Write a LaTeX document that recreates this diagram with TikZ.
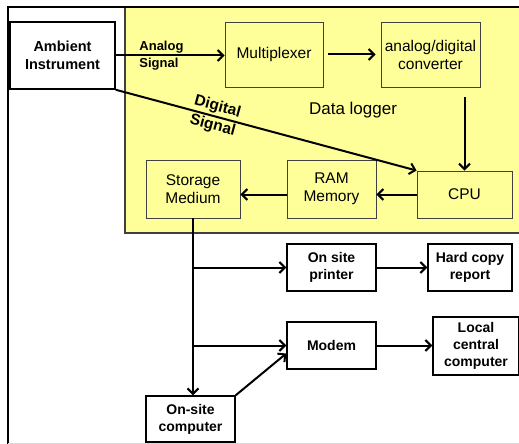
\documentclass[tikz,border=0pt]{standalone}
\usepackage{fontspec}
\setmainfont{Liberation Sans}
\usetikzlibrary{arrows.meta}
\definecolor{loggerBg}{RGB}{255,255,153}
\colorlet{loggerBorder}{black!75}
\tikzset{
  unitbox/.style={draw=loggerBorder, fill=loggerBg, line width=0.9pt, align=center,
    inner sep=0pt, font=\fontsize{15.5}{18}\selectfont},
  devbox/.style={draw=black, fill=white, line width=1.5pt, align=center,
    inner sep=0pt, font=\fontsize{14}{17}\selectfont\bfseries},
  flow/.style={line width=2pt, -{Straight Barb[length=5.5pt,width=11pt]}},
  siglabel/.style={font=\fontsize{13}{16.5}\selectfont\bfseries, inner sep=0pt}
}

\begin{document}
\begin{tikzpicture}[x=1pt,y=-1pt]
   \useasboundingbox (0,0) rectangle (519,444);

   % data logger area and frame
   \fill[loggerBg] (125,7) rectangle (519,233);
   \draw[loggerBorder, line width=1.8pt] (125,7) -- (125,233) -- (519,233);
   \draw[line width=1.6pt] (8,444) -- (8,7);
   \draw[line width=2.6pt] (7.2,7) -- (519,7);
   \draw[black!15] (8,443) -- (519,443);

   \node[font=\fontsize{17}{20}\selectfont] (logger) at (353,110) {Data logger};

   \node[devbox, minimum width=105pt, minimum height=67pt,
     font=\fontsize{14.5}{17.5}\selectfont\bfseries] (amb) at (62.5,55.5) {Ambient\\Instrument};

   \node[unitbox, minimum width=98pt, minimum height=65pt] (mux) at (274,54.5) {Multiplexer};
   \node[unitbox, minimum width=99pt, minimum height=65pt] (adc) at (430.5,54.5) {analog/digital\\converter};
   \node[unitbox, minimum width=95pt, minimum height=47pt] (cpu) at (464.5,194.5) {CPU};
   \node[unitbox, minimum width=89pt, minimum height=58pt] (ram) at (331.5,189) {RAM\\Memory};
   \node[unitbox, minimum width=94pt, minimum height=58pt] (stor) at (193,189) {Storage\\Medium};

   \node[devbox, minimum width=89pt, minimum height=47pt] (prn) at (331.5,267.5) {On site\\printer};
   \node[devbox, minimum width=84pt, minimum height=47pt] (hard) at (470,267.5) {Hard copy\\report};
   \node[devbox, minimum width=89pt, minimum height=47pt] (modem) at (331.5,345.5) {Modem};
   \node[devbox, minimum width=86pt, minimum height=58pt] (local) at (476,346) {Local\\central\\computer};
   \node[devbox, minimum width=89pt, minimum height=46pt] (osc) at (190.5,419) {On-site\\computer};

   \draw[flow] (amb.east) -- node[siglabel, pos=0.42, align=left] {Analog\\Signal} (amb.east -| mux.west);
   \draw[flow] (amb.south east) -- node[siglabel, pos=0.33, sloped, align=center,
     font=\fontsize{15.5}{19}\selectfont\bfseries] {Digital\\Signal} (cpu.north west);
   \draw[flow, shorten <=5pt, shorten >=5pt] (mux.east) -- (mux.east -| adc.west);
   \draw[flow] ([yshift=-10pt]adc.south -| cpu.north) -- (cpu.north);
   \draw[flow] (cpu.west) -- (cpu.west -| ram.east);
   \draw[flow] (ram.west |- cpu.west) -- (cpu.west -| stor.east);

   \draw[flow] (stor.south) -- (stor.south |- osc.north);
   \draw[flow] (stor.south |- prn.west) -- (prn.west);
   \draw[flow] (stor.south |- modem.west) -- (modem.west);
   \draw[flow] (prn.east) -- (prn.east -| hard.west);
   \draw[flow] (modem.east) -- (modem.east -| local.west);
   \draw[flow] (osc.north east) -- ([yshift=-8pt]modem.west);

\end{tikzpicture}
\end{document}
